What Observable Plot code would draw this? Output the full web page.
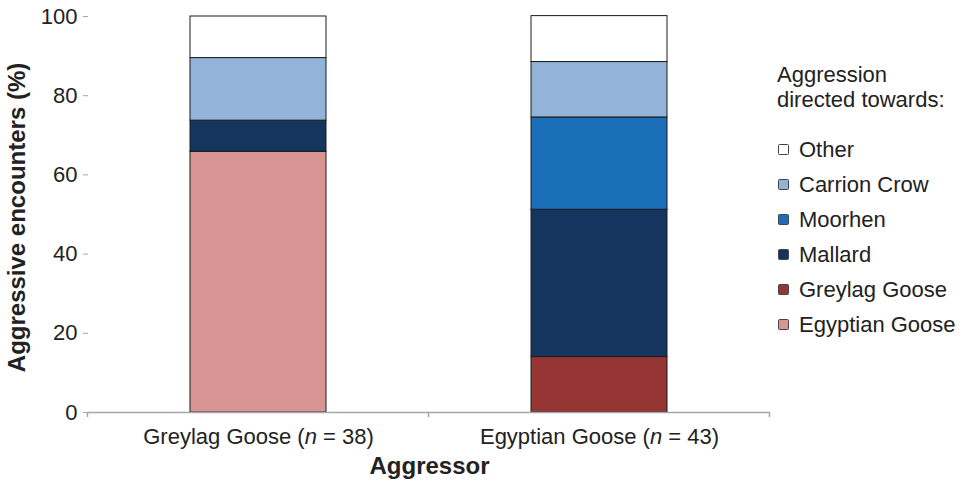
<!DOCTYPE html>
<html>
<head>
<meta charset="utf-8">
<script src="https://cdn.jsdelivr.net/npm/d3@7"></script>
<script src="https://cdn.jsdelivr.net/npm/@observablehq/plot@0.6"></script>
<style>
  html, body { margin: 0; padding: 0; background: #fff; }
  #wrap { position: relative; width: 966px; height: 482px; font-family: "Liberation Sans", Arial, sans-serif; }
  #legend { position: absolute; left: 0; top: 0; color: #222; font-size: 22px; }
  #legend .title { position: absolute; left: 777px; top: 62px; line-height: 25px; white-space: nowrap; }
  #legend .item { position: absolute; left: 777px; white-space: nowrap; line-height: 26px; height: 26px; }
  #legend .sw { position: absolute; left: 1px; top: 7px; width: 9px; height: 9px; border: 1.5px solid #444; border-radius: 1.5px; }
  #legend .lbl { position: absolute; left: 22px; top: 0; }
</style>
</head>
<body>
<div id="wrap"></div>
<script>
// Data
const aggressors = ["Greylag Goose", "Egyptian Goose"];
const aggressorN = [38, 43];
const targets = ["Egyptian Goose", "Greylag Goose", "Mallard", "Moorhen", "Carrion Crow", "Other"];
const targetColors = ["#d99594", "#963634", "#14365e", "#1a6fb8", "#93b3d8", "#ffffff"];
const greylagPct = [65.8, 0, 7.9, 0, 15.8, 10.5];
const egyptianPct = [0, 14.0, 37.2, 23.3, 14.0, 11.6];
const yTicks = [0, 20, 40, 60, 80, 100];

const seriesByAggressor = [greylagPct, egyptianPct];
const rows = [];
aggressors.forEach((a, i) => {
  targets.forEach((t, j) => {
    const v = seriesByAggressor[i][j];
    if (v > 0) rows.push({aggressor: a, target: t, pct: v});
  });
});

const chart = Plot.plot({
  width: 966,
  height: 482,
  marginLeft: 88,
  marginRight: 196,
  marginTop: 16,
  marginBottom: 70,
  style: {fontFamily: "'Liberation Sans', Arial, sans-serif", background: "#fff"},
  x: {domain: aggressors, paddingInner: 0.6, paddingOuter: 0.3, label: null},
  y: {domain: [0, 100], label: null},
  color: {domain: targets, range: targetColors},
  marks: [
    Plot.barY(rows, {x: "aggressor", y: "pct", fill: "target", order: targets, stroke: "#1c1c1c", strokeWidth: 1}),
    Plot.ruleY([0], {stroke: "#a6a6a6", strokeWidth: 1.5}),
    Plot.axisY({ticks: yTicks, tickSize: 5, tickPadding: 6, fontSize: 22, stroke: "#a6a6a6", fill: "#222", line: true, label: null}),
    Plot.axisX({tickSize: 0, tickPadding: 16, fontSize: 22, fill: "#222", label: null,
      tickFormat: (d) => d + " (n = " + aggressorN[aggressors.indexOf(d)] + ")"}),
    Plot.text(["Aggressive encounters (%)"], {frameAnchor: "left", textAnchor: "middle", rotate: -90, dx: -71, dy: 3, fontSize: 24, fontWeight: "bold", fill: "#222"}),
    Plot.text(["Aggressor"], {frameAnchor: "bottom", textAnchor: "middle", dy: 61, fontSize: 24, fontWeight: "bold", fill: "#222"})
  ]
});

// italicize "n" in x tick labels
d3.select(chart).selectAll('g[aria-label="x-axis tick label"] text').each(function () {
  const el = d3.select(this);
  const txt = el.text();
  const m = txt.match(/^(.*\()n( = .*)$/);
  if (m) {
    el.text(null);
    el.append("tspan").text(m[1]);
    el.append("tspan").attr("font-style", "italic").text("n");
    el.append("tspan").text(m[2]);
  }
});

// category boundary tick marks on x axis
const xs = chart.scale("x");
const ys = chart.scale("y");
const y0 = ys.apply(0);
const half = xs.step / 2;
const bounds = [xs.apply(aggressors[0]) + xs.bandwidth / 2 - half];
aggressors.forEach(a => bounds.push(xs.apply(a) + xs.bandwidth / 2 + half));
const gt = d3.select(chart).append("g").attr("stroke", "#a6a6a6").attr("stroke-width", 1.5);
bounds.forEach(b => gt.append("line").attr("x1", b).attr("x2", b).attr("y1", y0).attr("y2", y0 + 5));

const wrap = document.getElementById("wrap");
wrap.appendChild(chart);

// Legend
const legend = document.createElement("div");
legend.id = "legend";
legend.innerHTML = '<div class="title">Aggression<br>directed towards:</div>';
const order = targets.slice().reverse();
order.forEach((t, i) => {
  const item = document.createElement("div");
  item.className = "item";
  item.style.top = (150 - 13 + i * 35) + "px";
  const c = targetColors[targets.indexOf(t)];
  item.innerHTML = '<span class="sw" style="background:' + c + '"></span><span class="lbl">' + t + '</span>';
  legend.appendChild(item);
});
wrap.appendChild(legend);
</script>
</body>
</html>
